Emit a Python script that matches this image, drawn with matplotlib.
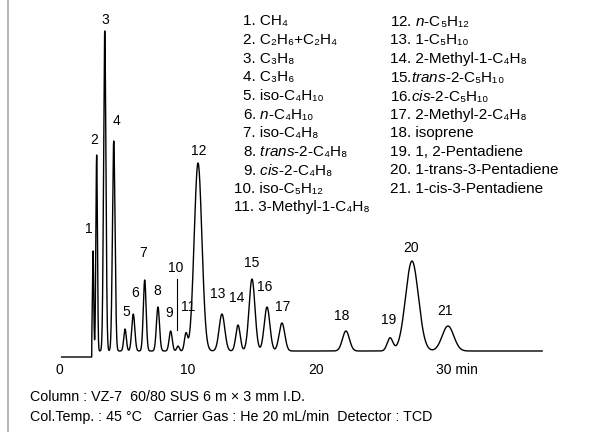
import numpy as np
import matplotlib
matplotlib.use('Agg')
import matplotlib.pyplot as plt
from matplotlib.lines import Line2D
import matplotlib.transforms as mtransforms

plt.rcParams['font.family'] = ['Liberation Sans', 'DejaVu Sans']
plt.rcParams['mathtext.fontset'] = 'custom'
plt.rcParams['mathtext.rm'] = 'Liberation Sans'
plt.rcParams['mathtext.it'] = 'Liberation Sans:italic'
plt.rcParams['mathtext.bf'] = 'Liberation Sans:bold'

# ========== 数据 ==========
peak_no = [str(i) for i in range(1, 22)]
# 保留时间 (min)
peak_t = [2.65, 2.93, 3.56, 4.26, 5.14, 5.78, 6.67, 7.70, 8.69, 9.26, 9.88,
          10.82, 12.68, 13.93, 15.02, 16.19, 17.35, 22.33, 25.76, 27.47, 30.27]
# 峰高
peak_h = [100, 196, 320, 210, 22, 37, 71, 44, 20, 5, 17,
          188, 37, 26, 72, 44, 28, 20, 13, 90, 25]
# 峰宽 sigma (min)
peak_w = [0.05, 0.06, 0.09, 0.10, 0.10, 0.12, 0.11, 0.12, 0.12, 0.10, 0.12,
          0.30, 0.22, 0.17, 0.23, 0.22, 0.22, 0.27, 0.22, 0.50, 0.45]
t_start, t_inject, t_end = 0.2, 2.55, 37.6
pre_offset = -6

# 峰标号位置
lab_t = [2.33, 2.72, 3.58, 4.51, 5.21, 5.91, 6.54, 7.63, 8.56, 9.10, 10.04,
         10.89, 12.37, 13.85, 15.02, 16.03, 17.43, 22.02, 25.68, 27.39, 30.04]
lab_h = [122, 211, 331, 230, 39, 58, 98, 60, 38, 83, 44,
         200, 57, 53, 88, 64, 44, 35, 31, 103, 40]

# 下标用 Unicode 下标数字，斜体部分用 mathtext
compounds = [
    '1. CH\u2084',
    '2. C\u2082H\u2086+C\u2082H\u2084',
    '3. C\u2083H\u2088',
    '4. C\u2083H\u2086',
    '5. iso-C\u2084H\u2081\u2080',
    r'6. $\it{n}$-C' + '\u2084H\u2081\u2080',
    '7. iso-C\u2084H\u2088',
    r'8. $\it{trans}$-2-C' + '\u2084H\u2088',
    r'9. $\it{cis}$-2-C' + '\u2084H\u2088',
    '10. iso-C\u2085H\u2081\u2082',
    '11. 3-Methyl-1-C\u2084H\u2088',
    r'12. $\it{n}$-C' + '\u2085H\u2081\u2082',
    '13. 1-C\u2085H\u2081\u2080',
    '14. 2-Methyl-1-C\u2084H\u2088',
    r'15.$\it{trans}$-2-C' + '\u2085H\u2081\u2080',
    r'16.$\it{cis}$-2-C' + '\u2085H\u2081\u2080',
    '17. 2-Methyl-2-C\u2084H\u2088',
    '18. isoprene',
    '19. 1, 2-Pentadiene',
    '20. 1-trans-3-Pentadiene',
    '21. 1-cis-3-Pentadiene',
]

notes = ['Column : VZ-7  60/80 SUS 6 m \u00d7 3 mm I.D.',
         'Col.Temp. : 45 \u00b0C   Carrier Gas : He 20 mL/min  Detector : TCD']

# ========== 色谱曲线 ==========
t = np.linspace(t_start, t_end, 6000)
sig = np.where(t < t_inject, pre_offset, 0.0)
for tr, h, w in zip(peak_t, peak_h, peak_w):
    sig = sig + h * np.exp(-0.5 * ((t - tr) / w) ** 2) * (t >= t_inject)

W, H = 590, 432
fig = plt.figure(figsize=(W / 100, H / 100), dpi=100)
# 坐标区：像素 x 40..560, y 10..360
ax = fig.add_axes([40 / W, (H - 360) / H, 520 / W, 350 / H])
ax.set_xlim((40 - 59) / 12.85, (560 - 59) / 12.85)
ax.set_ylim(-9, 341)
ax.plot(t, sig, color='black', lw=1.0)

for s in ax.spines.values():
    s.set_visible(False)
ax.set_yticks([])
ax.set_xticks([0, 10, 20, 30])
ax.set_xticklabels(['0', '10', '20', '30 min'], fontsize=10)
ax.tick_params(axis='x', length=0, pad=2)
lbl = ax.get_xticklabels()[-1]
lbl.set_horizontalalignment('left')
lbl.set_transform(lbl.get_transform() + mtransforms.ScaledTranslation(-8 / 100, 0, fig.dpi_scale_trans))

for n, x, y in zip(peak_no, lab_t, lab_h):
    ax.text(x, y, n, fontsize=10, ha='center', va='center')
# 10 号峰引线
ax.plot([9.2, 9.2], [21, 72], color='black', lw=0.8)

# 组分列表
row_h = 18.6
for i, s in enumerate(compounds):
    if i < 11:
        x = 243 if i < 9 else 234
        y = 21.5 + i * row_h
    else:
        x = 390
        y = 21.5 + (i - 11) * row_h
    fig.text(x / W, 1 - y / H, s, fontsize=11, ha='left', va='center')

for i, s in enumerate(notes):
    fig.text(30 / W, 1 - (397 + i * 19.5) / H, s, fontsize=10.3, ha='left', va='center')

# 左侧灰色边框
fig.add_artist(Line2D([8 / W, 8 / W], [0, 1], color='#a8a8a8', lw=1.2))

fig.savefig('out.png', dpi=100)
